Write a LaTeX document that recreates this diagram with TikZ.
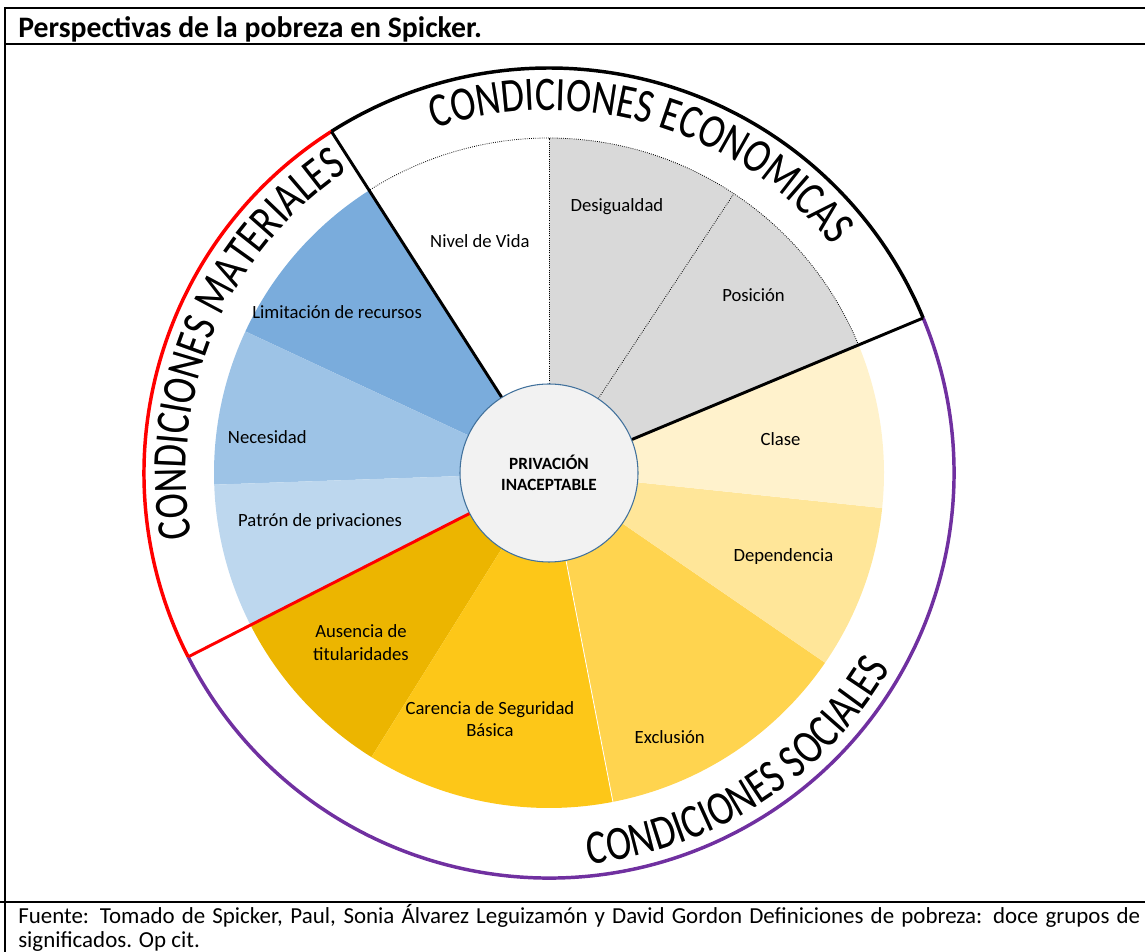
\documentclass[tikz,border=0pt]{standalone}
\usepackage{fontspec}
\setmainfont{Carlito}
\newfontfamily\arcfont[FakeStretch=0.79]{Carlito}
\usepackage{xcolor}
\usepackage{tikz}
\usetikzlibrary{calc,decorations.text}

\definecolor{econ}{HTML}{D9D9D9}
\definecolor{matA}{HTML}{7AACDC}
\definecolor{matB}{HTML}{9DC3E6}
\definecolor{matC}{HTML}{BDD7EE}
\definecolor{socA}{HTML}{ECB500}
\definecolor{socB}{HTML}{FDC718}
\definecolor{socC}{HTML}{FFD44F}
\definecolor{socD}{HTML}{FFE699}
\definecolor{socE}{HTML}{FFF2CC}
\definecolor{hubfill}{HTML}{F2F2F2}
\definecolor{hubline}{HTML}{41719C}
\definecolor{social}{HTML}{7030A0}

\tikzset{
  arc title/.style n args={2}{decorate,
    decoration={text along path, text align=center,
      text={|\arcfont\fontsize{36}{42}\selectfont\color{#2}|#1}}}
}

\begin{document}
\begin{tikzpicture}[
    x=0.75pt,y=0.75pt,
    frame/.style={line width=1.5pt},
    ring/.style={line width=2.6pt},
    divider/.style={line width=2.2pt},
    help dots/.style={densely dotted,line width=0.6pt},
    sector label/.style={font=\fontsize{14}{17}\selectfont,align=center,inner sep=1pt}
  ]
  \useasboundingbox (0,0) rectangle (1145,952);
  \coordinate (O) at (549,479);
  % marco
  \draw[frame] (5,0) -- (5,944) -- (1145,944);
  \draw[frame] (5,908) -- (1145,908);
  \draw[frame] (0,50) -- (1145,50);
  \node[anchor=base west,inner sep=0pt,font=\bfseries\fontsize{22.3}{26}\selectfont] (title)
    at (18,914) {Perspectivas de la pobreza en Spicker.};
  \node[anchor=base west,inner sep=0pt,text width=841.5pt,align=justify,
    font=\fontsize{17.2}{17.6}\selectfont] (source) at (18,28)
    {Fuente: Tomado de Spicker, Paul, Sonia Álvarez Leguizamón y David Gordon Definiciones de pobreza: doce grupos de significados. Op cit.};
  % sectores
  \foreach \a/\b/\c in {22.5/56.5/econ,56.5/90/econ,90/122.5/white,
      122.5/155/matA,155/182/matB,182/207/matC,
      207/238/socA,238/281/socB,281/325.5/socC,325.5/354/socD,354/382.5/socE}
    \fill[\c] (O) -- ++(\a:335) arc[start angle=\a,end angle=\b,radius=335] -- cycle;
  \draw[white,line width=0.6pt] (O) -- ++(281:335);
  % contorno punteado
  \draw[help dots] ($(O)+(22.5:335)$) arc[start angle=22.5,end angle=122.5,radius=335];
  \draw[help dots] (O) -- ++(90:335);
  \draw[help dots] (O) -- ++(56.5:335);
  % centro
  \node[circle,draw=hubline,line width=0.8pt,fill=hubfill,minimum size=133.5pt,
    font=\bfseries\fontsize{12.9}{15.5}\selectfont,align=center] (hub) at (O)
    {PRIVACIÓN\\INACEPTABLE};
  % etiquetas
  \foreach \ang/\r/\txt [count=\i] in {
      106.6/242/Nivel de Vida, 75.7/275/Desigualdad, 41/271/Posición,
      142.8/266/Limitación de recursos, 172.7/284/Necesidad,
      192/234/Patrón de privaciones, 222/253/Ausencia de\\titularidades,
      256.5/253/Carencia de Seguridad\\Básica, 294.6/290/Exclusión,
      340.3/249/Dependencia, 8.3/234/Clase}
    \node[sector label] (s\i) at ($(O)+(\ang:\r)$) {\txt};
  % anillo exterior
  \coordinate (m1) at ($(O)+(22.5:405)$);
  \coordinate (m2) at ($(O)+(122.5:405)$);
  \coordinate (m3) at ($(O)+(207:405)$);
  \draw[ring,black] (m1) arc[start angle=22.5,end angle=122.5,radius=405];
  \draw[ring,red] (m2) arc[start angle=122.5,end angle=207,radius=405];
  \draw[ring,social] (m3) arc[start angle=207,end angle=382.5,radius=405];
  \draw[divider,black] (hub.22.5) -- (m1);
  \draw[divider,black] (hub.122.5) -- (m2);
  \draw[divider,red] (hub.207) -- (m3);
  % textos curvos con sombra
  \path[arc title={CONDICIONES ECONOMICAS}{black!30},shift={(2.5,-2.5)}]
    ($(O)+(123.5:363)$) arc[start angle=123.5,end angle=23.5,radius=363];
  \path[arc title={CONDICIONES ECONOMICAS}{black}]
    ($(O)+(123.5:363)$) arc[start angle=123.5,end angle=23.5,radius=363];
  \path[arc title={CONDICIONES MATERIALES}{black!30},shift={(2.5,-2.5)}]
    ($(O)+(207:363)$) arc[start angle=207,end angle=107,radius=363];
  \path[arc title={CONDICIONES MATERIALES}{black}]
    ($(O)+(207:363)$) arc[start angle=207,end angle=107,radius=363];
  \path[arc title={CONDICIONES SOCIALES}{black!30},shift={(2.5,-2.5)}]
    ($(O)+(253:393)$) arc[start angle=253,end angle=353,radius=393];
  \path[arc title={CONDICIONES SOCIALES}{black}]
    ($(O)+(253:393)$) arc[start angle=253,end angle=353,radius=393];
\end{tikzpicture}
\end{document}
